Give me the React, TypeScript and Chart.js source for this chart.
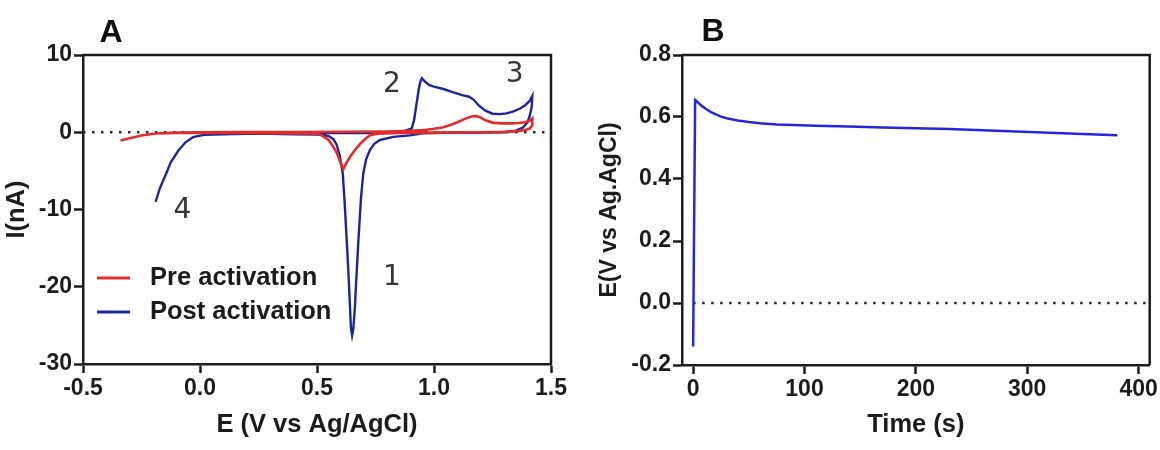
import { useEffect, useRef } from "react";
import { Chart, registerables } from "chart.js";

Chart.register(...registerables);

// ---- Panel A: cyclic voltammograms (E in V vs Ag/AgCl, I in nA) ----
const preForwardE = [-0.34, -0.3, -0.25, -0.19, -0.1, 0, 0.2, 0.4, 0.6, 0.8, 0.9, 0.96, 1.0, 1.04, 1.07, 1.1, 1.13, 1.16, 1.18, 1.2, 1.22, 1.25, 1.29, 1.33, 1.36, 1.39, 1.41, 1.42];
const preForwardI = [-1.07, -0.77, -0.43, -0.17, -0.05, 0, 0.02, 0.04, 0.06, 0.1, 0.18, 0.3, 0.45, 0.64, 0.95, 1.3, 1.7, 2.05, 2.1, 1.9, 1.55, 1.25, 1.15, 1.15, 1.2, 1.3, 1.5, 1.8];
const preReverseE = [1.42, 1.41, 1.39, 1.36, 1.3, 1.2, 1.0, 0.85, 0.76, 0.726, 0.705, 0.684, 0.66, 0.641, 0.625, 0.612, 0.6, 0.585, 0.57, 0.55, 0.52, 0.5, 0.4, 0.2, 0, -0.1, -0.19, -0.25, -0.3, -0.34];
const preReverseI = [0.9, 0.5, 0.3, 0.15, 0.05, 0.0, -0.05, -0.1, -0.2, -0.4, -0.9, -1.5, -2.4, -3.2, -4.0, -4.8, -3.9, -2.7, -1.9, -1.0, -0.4, -0.2, -0.15, -0.1, -0.1, -0.1, -0.17, -0.43, -0.77, -1.07];

const postForwardE = [-0.19, -0.172, -0.148, -0.125, -0.093, -0.062, -0.03, 0.017, 0.1, 0.2, 0.3, 0.4, 0.5, 0.6, 0.7, 0.8, 0.87, 0.905, 0.915, 0.925, 0.935, 0.942, 0.948, 0.96, 0.98, 1.0, 1.04, 1.08, 1.12, 1.15, 1.17, 1.19, 1.22, 1.25, 1.28, 1.31, 1.34, 1.37, 1.39, 1.41, 1.42];
const postForwardI = [-9.0, -7.3, -5.6, -3.9, -2.4, -1.3, -0.64, -0.34, -0.2, -0.15, -0.12, -0.1, -0.1, -0.1, -0.1, -0.05, 0.1, 0.5, 1.6, 3.6, 5.6, 6.6, 7.0, 6.6, 6.1, 5.9, 5.6, 5.2, 4.8, 4.6, 4.2, 3.5, 2.8, 2.4, 2.35, 2.45, 2.7, 3.1, 3.5, 4.1, 4.7];
const postReverseE = [1.418, 1.41, 1.4, 1.38, 1.35, 1.3, 1.2, 1.1, 1.0, 0.95, 0.897, 0.825, 0.769, 0.745, 0.726, 0.71, 0.698, 0.688, 0.677, 0.668, 0.662, 0.655, 0.65, 0.645, 0.641, 0.634, 0.627, 0.618, 0.61, 0.597, 0.584, 0.57, 0.55, 0.52, 0.5, 0.4, 0.3, 0.2, 0.1, 0.017, -0.03, -0.062, -0.093, -0.125, -0.148, -0.172, -0.19];
const postReverseI = [3.4, 2.2, 1.3, 0.6, 0.2, 0.0, -0.05, -0.05, -0.1, -0.15, -0.4, -0.6, -1.0, -1.5, -2.3, -3.5, -5.3, -8.5, -14, -19, -22.6, -25.5, -26.3, -25.3, -22.6, -18, -14, -9, -5.3, -3.0, -1.6, -0.9, -0.5, -0.35, -0.3, -0.25, -0.2, -0.2, -0.25, -0.34, -0.64, -1.3, -2.4, -3.9, -5.6, -7.3, -9.0];

const cvBaselineE = [-0.5, 1.5];
const cvXTicks = [-0.5, 0, 0.5, 1, 1.5];
const cvYTicks = [-30, -20, -10, 0, 10];

const cvPeakNames = ["1", "2", "3", "4"];
const cvPeakNameE = [0.82, 0.82, 1.345, -0.075];
const cvPeakNameI = [-18.8, 6.2, 7.4, -10.2];

// ---- Panel B: potential after activation vs time ----
const timeS = [0, 1.8, 3, 5, 8, 12, 16, 20, 25, 30, 40, 50, 60, 75, 90, 110, 140, 170, 200, 230, 260, 290, 320, 350, 381];
const potentialV = [-0.14, 0.655, 0.652, 0.645, 0.635, 0.625, 0.616, 0.609, 0.601, 0.596, 0.589, 0.584, 0.58, 0.576, 0.574, 0.572, 0.569, 0.566, 0.564, 0.561, 0.557, 0.553, 0.549, 0.545, 0.541];
const timeBaseline = [0, 410];
const timeTicks = [0, 100, 200, 300, 400];
const potentialTicks = [-0.2, 0, 0.2, 0.4, 0.6, 0.8];

// ---- styling ----
const INK = "#1c1c1c";
const FONT = "'Liberation Sans', Arial, Helvetica, sans-serif";
const RED = "#e42b2b";
const NAVY = "#1d2697";
const BRIGHT_BLUE = "#2626dc";

const tickFont = { family: FONT, size: 23, weight: "bold" as const };
const titleFont = { family: FONT, size: 25.5, weight: "bold" as const };

const zip = (xs: number[], ys: number[]) => xs.map((x, i) => ({ x, y: ys[i] }));

function axis(ticks: number[], fmt: (v: number) => string, min: number, max: number) {
  return {
    type: "linear" as const,
    min,
    max,
    afterBuildTicks: (s: any) => {
      s.ticks = ticks.map((value) => ({ value }));
    },
    grid: {
      display: true,
      drawOnChartArea: false,
      drawTicks: true,
      tickLength: 9,
      tickWidth: 2.5,
      color: INK,
      tickColor: INK,
    },
    border: { display: true, color: INK, width: 2.5 },
    ticks: {
      color: INK,
      font: tickFont,
      padding: 2,
      autoSkip: false,
      maxRotation: 0,
      callback: (v: any) => fmt(Number(v)),
    },
  };
}

const framePlugin = {
  id: "frame",
  afterDraw(chart: any) {
    const { ctx, chartArea: a } = chart;
    ctx.save();
    ctx.strokeStyle = INK;
    ctx.lineWidth = 2.5;
    ctx.beginPath();
    ctx.moveTo(a.left, a.top);
    ctx.lineTo(a.right, a.top);
    ctx.lineTo(a.right, a.bottom);
    ctx.stroke();
    ctx.restore();
  },
};

function panelLetter(letter: string, x: number, y: number) {
  return {
    id: "panelLetter",
    afterDraw(chart: any) {
      const ctx = chart.ctx;
      ctx.save();
      ctx.fillStyle = "#111";
      ctx.font = `bold 32px ${FONT}`;
      ctx.textAlign = "center";
      ctx.textBaseline = "alphabetic";
      ctx.fillText(letter, x, y);
      ctx.restore();
    },
  };
}

const peakNamePlugin = {
  id: "peakNames",
  afterDraw(chart: any) {
    const { ctx, scales } = chart;
    ctx.save();
    ctx.fillStyle = "#363636";
    ctx.font = `28px 'DejaVu Sans', sans-serif`;
    ctx.textAlign = "center";
    ctx.textBaseline = "middle";
    cvPeakNames.forEach((name, i) => {
      ctx.fillText(name, scales.x.getPixelForValue(cvPeakNameE[i]), scales.y.getPixelForValue(cvPeakNameI[i]));
    });
    ctx.restore();
  },
};

const cvLegendPlugin = {
  id: "cvLegend",
  afterDraw(chart: any) {
    const ctx = chart.ctx;
    const a = chart.chartArea;
    const rows = chart.data.datasets.filter((d: any) => d.label);
    ctx.save();
    rows.forEach((ds: any, i: number) => {
      const y = a.top + 223 + i * 34;
      ctx.strokeStyle = ds.borderColor;
      ctx.lineWidth = 3;
      ctx.beginPath();
      ctx.moveTo(a.left + 14, y);
      ctx.lineTo(a.left + 47, y);
      ctx.stroke();
      ctx.fillStyle = INK;
      ctx.font = `bold 25.5px ${FONT}`;
      ctx.textAlign = "left";
      ctx.textBaseline = "middle";
      ctx.fillText(ds.label, a.left + 67, y);
    });
    ctx.restore();
  },
};

function cvConfig(): any {
  return {
    type: "scatter",
    data: {
      datasets: [
        {
          label: "Pre activation",
          data: zip(preForwardE.concat(preReverseE), preForwardI.concat(preReverseI)),
          showLine: true,
          borderColor: RED,
          borderWidth: 2.6,
          pointRadius: 0,
          tension: 0,
        },
        {
          label: "Post activation",
          data: zip(postForwardE.concat(postReverseE), postForwardI.concat(postReverseI)),
          showLine: true,
          borderColor: NAVY,
          borderWidth: 2.4,
          pointRadius: 0,
          tension: 0,
        },
        {
          data: zip(cvBaselineE, cvBaselineE.map(() => 0)),
          showLine: true,
          borderColor: "#2a2a2a",
          borderWidth: 2.5,
          borderDash: [2.5, 6.5],
          pointRadius: 0,
        },
      ],
    },
    options: {
      responsive: false,
      animation: false,
      devicePixelRatio: 1,
      layout: { padding: { left: 0, right: 29, top: 55, bottom: 10 } },
      plugins: { legend: { display: false }, tooltip: { enabled: false } },
      scales: {
        x: {
          ...axis(cvXTicks, (v) => v.toFixed(1), -0.5, 1.5),
          position: "bottom",
          title: { display: true, text: "E (V vs Ag/AgCl)", font: titleFont, color: INK, padding: { top: 0, bottom: 0 } },
          afterFit: (s: any) => {
            s.height = 76;
          },
        },
        y: {
          ...axis(cvYTicks, (v) => String(v), -30, 10),
          position: "left",
          title: { display: true, text: "I(nA)", font: titleFont, color: INK, padding: { top: 2, bottom: 0 } },
          afterFit: (s: any) => {
            s.width = 83;
          },
        },
      },
    },
    plugins: [framePlugin, peakNamePlugin, cvLegendPlugin, panelLetter("A", 111, 42)],
  };
}

function ocpConfig(): any {
  return {
    type: "scatter",
    data: {
      datasets: [
        {
          label: "Potential",
          data: zip(timeS, potentialV),
          showLine: true,
          borderColor: BRIGHT_BLUE,
          borderWidth: 2.5,
          pointRadius: 0,
          tension: 0,
        },
        {
          data: zip(timeBaseline, timeBaseline.map(() => 0)),
          showLine: true,
          borderColor: "#2a2a2a",
          borderWidth: 2.5,
          borderDash: [2.5, 6.5],
          pointRadius: 0,
        },
      ],
    },
    options: {
      responsive: false,
      animation: false,
      devicePixelRatio: 1,
      layout: { padding: { left: 0, right: 10, top: 55, bottom: 10 } },
      plugins: { legend: { display: false }, tooltip: { enabled: false } },
      scales: {
        x: {
          ...axis(timeTicks, (v) => String(v), -10, 410),
          position: "bottom",
          title: { display: true, text: "Time (s)", font: titleFont, color: INK, padding: { top: 0, bottom: 0 } },
          afterFit: (s: any) => {
            s.height = 75;
          },
        },
        y: {
          ...axis(potentialTicks, (v) => v.toFixed(1), -0.2, 0.8),
          position: "left",
          title: {
            display: true,
            text: "E(V vs Ag.AgCl)",
            font: { ...titleFont, size: 23 },
            color: INK,
            padding: { top: 16, bottom: 0 },
          },
          afterFit: (s: any) => {
            s.width = 102;
          },
        },
      },
    },
    plugins: [framePlugin, panelLetter("B", 133, 41)],
  };
}

export default function App() {
  const cvRef = useRef<HTMLCanvasElement>(null);
  const ocpRef = useRef<HTMLCanvasElement>(null);

  useEffect(() => {
    const cv = new Chart(cvRef.current as HTMLCanvasElement, cvConfig());
    const ocp = new Chart(ocpRef.current as HTMLCanvasElement, ocpConfig());
    return () => {
      cv.destroy();
      ocp.destroy();
    };
  }, []);

  return (
    <div style={{ position: "absolute", left: 0, top: 0, width: 1160, height: 450, background: "#ffffff" }}>
      <div style={{ position: "absolute", left: 0, top: 0, width: 580, height: 450 }}>
        <canvas ref={cvRef} width={580} height={450} style={{ display: "block", width: 580, height: 450 }} />
      </div>
      <div style={{ position: "absolute", left: 580, top: 0, width: 580, height: 450 }}>
        <canvas ref={ocpRef} width={580} height={450} style={{ display: "block", width: 580, height: 450 }} />
      </div>
    </div>
  );
}
